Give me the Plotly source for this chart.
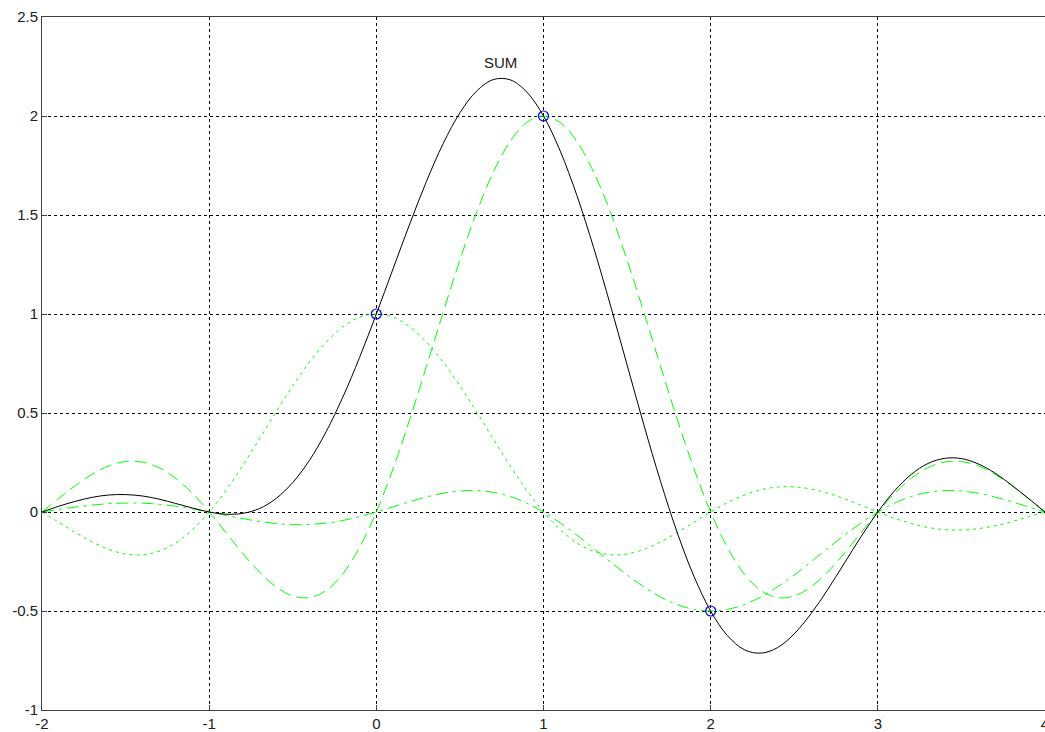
import plotly.graph_objects as go

# sample positions along x
x = [-2.0, -1.9, -1.8, -1.7, -1.6, -1.5, -1.4, -1.3, -1.2, -1.1,
     -1.0, -0.9, -0.8, -0.7, -0.6, -0.5, -0.4, -0.3, -0.2, -0.1,
     0.0, 0.1, 0.2, 0.3, 0.4, 0.5, 0.6, 0.7, 0.8, 0.9,
     1.0, 1.1, 1.2, 1.3, 1.4, 1.5, 1.6, 1.7, 1.8, 1.9,
     2.0, 2.1, 2.2, 2.3, 2.4, 2.5, 2.6, 2.7, 2.8, 2.9,
     3.0, 3.1, 3.2, 3.3, 3.4, 3.5, 3.6, 3.7, 3.8, 3.9, 4.0]

# component centred at x=0 (dotted)
comp0 = [0, -0.052, -0.104, -0.151, -0.189, -0.212, -0.216, -0.198, -0.156, -0.089,
         0, 0.109, 0.234, 0.368, 0.505, 0.637, 0.757, 0.858, 0.935, 0.984,
         1, 0.984, 0.935, 0.858, 0.757, 0.637, 0.505, 0.368, 0.234, 0.109,
         0, -0.089, -0.156, -0.198, -0.216, -0.212, -0.189, -0.151, -0.104, -0.052,
         0, 0.047, 0.085, 0.112, 0.126, 0.127, 0.116, 0.095, 0.067, 0.034,
         0, -0.032, -0.058, -0.078, -0.089, -0.091, -0.084, -0.070, -0.049, -0.025, 0]

# component centred at x=1 (dashed)
comp1 = [0, 0.068, 0.134, 0.191, 0.233, 0.255, 0.252, 0.224, 0.170, 0.094,
         0, -0.104, -0.208, -0.303, -0.378, -0.424, -0.432, -0.396, -0.312, -0.179,
         0, 0.219, 0.468, 0.736, 1.009, 1.273, 1.514, 1.717, 1.871, 1.967,
         2, 1.967, 1.871, 1.717, 1.514, 1.273, 1.009, 0.736, 0.468, 0.219,
         0, -0.179, -0.312, -0.396, -0.432, -0.424, -0.378, -0.303, -0.208, -0.104,
         0, 0.094, 0.170, 0.224, 0.252, 0.255, 0.233, 0.191, 0.134, 0.068, 0]

# component centred at x=2 (dash-dot)
comp2 = [0, 0.013, 0.025, 0.035, 0.042, 0.045, 0.045, 0.039, 0.029, 0.016,
         0, -0.017, -0.033, -0.048, -0.058, -0.064, -0.063, -0.056, -0.043, -0.023,
         0, 0.026, 0.052, 0.076, 0.095, 0.106, 0.108, 0.099, 0.078, 0.045,
         0, -0.055, -0.117, -0.184, -0.252, -0.318, -0.378, -0.429, -0.468, -0.492,
         -0.5, -0.492, -0.468, -0.429, -0.378, -0.318, -0.252, -0.184, -0.117, -0.055,
         0, 0.045, 0.078, 0.099, 0.108, 0.106, 0.095, 0.076, 0.052, 0.026, 0]

# SUM curve (black)
sum_curve = [0, 0.029, 0.054, 0.074, 0.086, 0.088, 0.081, 0.065, 0.043, 0.020,
             0, -0.011, -0.007, 0.017, 0.068, 0.149, 0.261, 0.406, 0.581, 0.781,
             1, 1.228, 1.455, 1.670, 1.861, 2.016, 2.126, 2.184, 2.183, 2.121,
             2, 1.823, 1.598, 1.335, 1.045, 0.743, 0.441, 0.155, -0.104, -0.325,
             -0.5, -0.624, -0.695, -0.713, -0.685, -0.615, -0.514, -0.392, -0.258, -0.124,
             0, 0.107, 0.190, 0.245, 0.271, 0.270, 0.243, 0.197, 0.136, 0.069, 0]

# samples
sample_x = [0, 1, 2]
sample_y = [1, 2, -0.5]

x_ticks = [-2, -1, 0, 1, 2, 3, 4]
x_ticktext = ["-2", "-1", "0", "1", "2", "3", "4"]
y_ticks = [-1, -0.5, 0, 0.5, 1, 1.5, 2, 2.5]
y_ticktext = ["-1", "-0.5", "0", "0.5", "1", "1.5", "2", "2.5"]

label_text = "SUM"
label_pos = (0.74, 2.27)

FONT = "Liberation Sans, Arial, sans-serif"
GREEN = "#00FF00"
fig = go.Figure()
fig.add_trace(go.Scatter(x=x, y=comp0, mode="lines", line=dict(color=GREEN, width=1, dash="3px,4px", shape="spline")))
fig.add_trace(go.Scatter(x=x, y=comp1, mode="lines", line=dict(color=GREEN, width=1, dash="12px,6px", shape="spline")))
fig.add_trace(go.Scatter(x=x, y=comp2, mode="lines", line=dict(color=GREEN, width=1, dash="12px,5px,3px,5px", shape="spline")))
fig.add_trace(go.Scatter(x=x, y=sum_curve, mode="lines", line=dict(color="black", width=1, shape="spline")))
fig.add_trace(go.Scatter(x=sample_x, y=sample_y, mode="markers",
                         marker=dict(symbol="circle-open", size=10, color="blue", line=dict(width=1.2, color="blue"))))

fig.add_annotation(x=label_pos[0], y=label_pos[1], text=label_text, showarrow=False,
                   font=dict(family=FONT, size=15, color="#202020"))

axis_common = dict(showline=True, mirror=True, linecolor="#404040", linewidth=1,
                   showgrid=True, gridcolor="black", gridwidth=1, griddash="3px,3px",
                   zeroline=False, ticks="inside", ticklen=5, tickcolor="#404040",
                   ticklabeloverflow="allow", automargin=False,
                   tickfont=dict(family=FONT, size=15, color="#202020"))

fig.update_xaxes(range=[-2, 4], tickvals=x_ticks, ticktext=x_ticktext, **axis_common)
fig.update_yaxes(range=[-1, 2.5], tickvals=y_ticks, ticktext=y_ticktext, **axis_common)

fig.update_layout(width=1045, height=732, margin=dict(l=42, r=0, t=17, b=22),
                  plot_bgcolor="white", paper_bgcolor="white", showlegend=False)

fig.write_html("out.html")
